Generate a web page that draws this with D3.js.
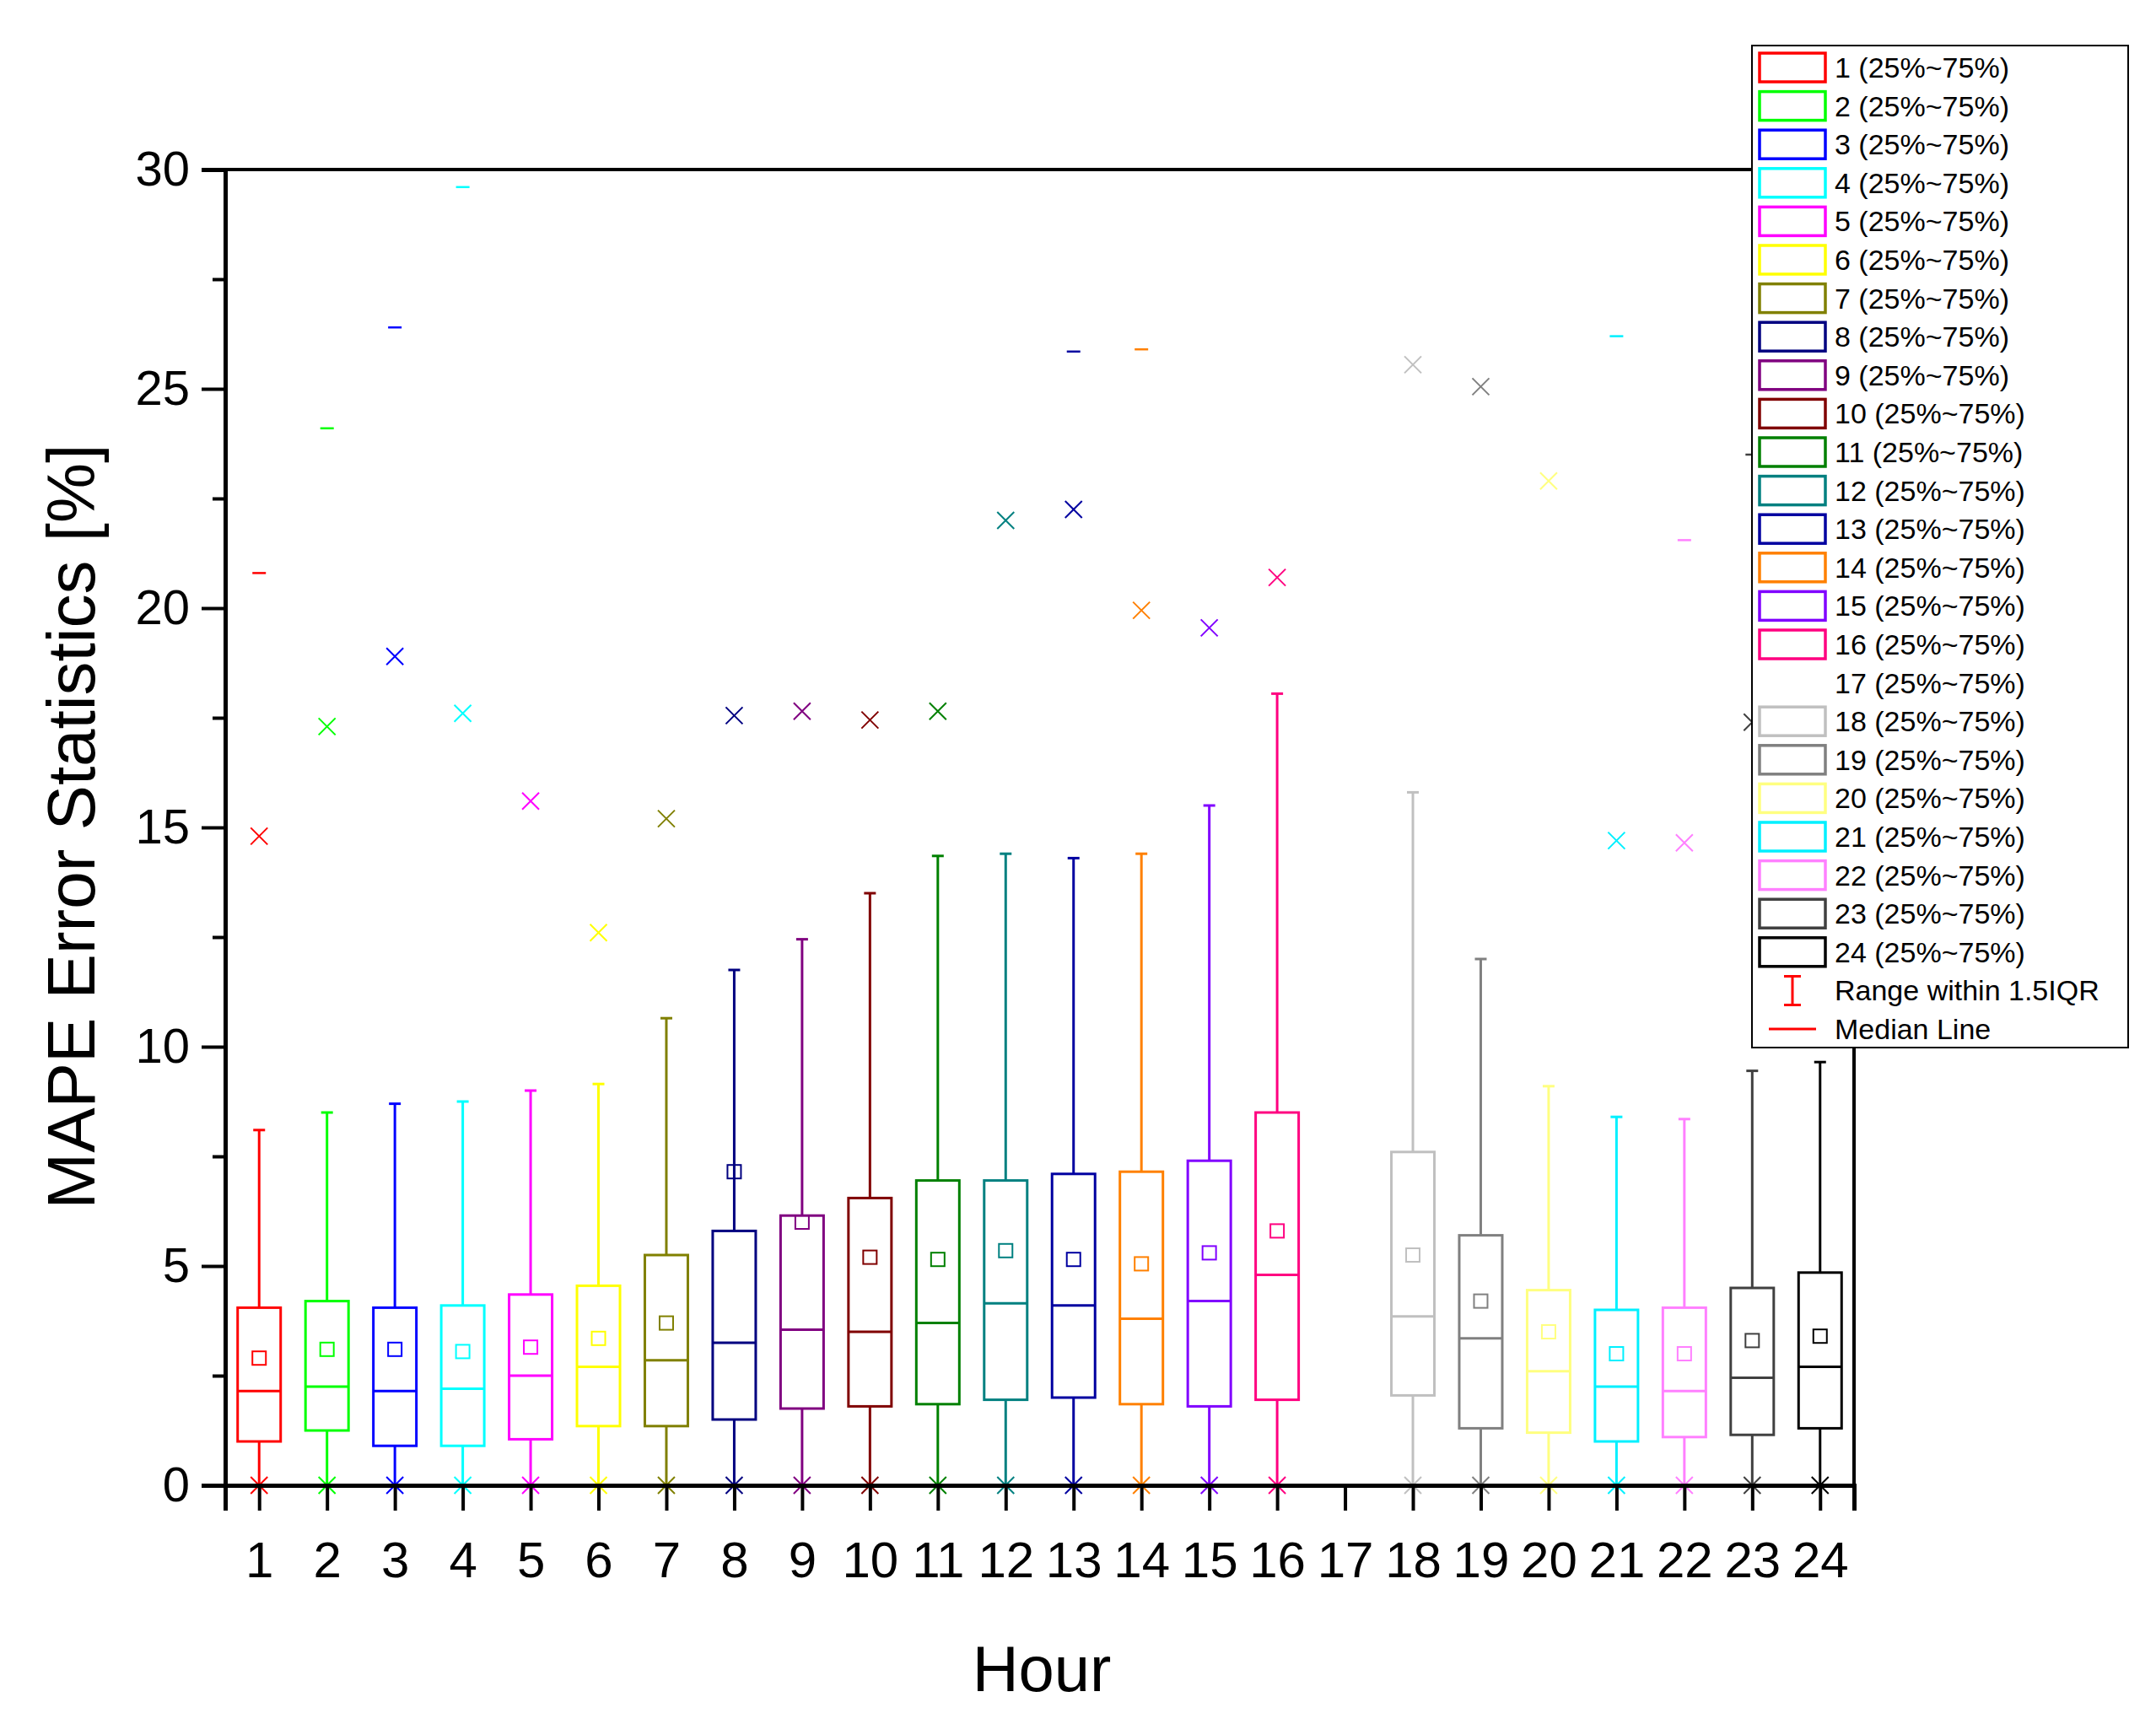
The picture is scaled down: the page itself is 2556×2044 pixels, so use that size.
<!DOCTYPE html>
<html><head><meta charset="utf-8">
<script src="https://cdn.jsdelivr.net/npm/d3@7"></script>
<style>body{margin:0;background:#fff}</style></head>
<body><svg id="c" width="2556" height="2044"></svg>
<script>
const hours=[1,2,3,4,5,6,7,8,9,10,11,12,13,14,15,16,17,18,19,20,21,22,23,24];
const colors=["#FF0000","#00FF00","#0000FF","#00FFFF","#FF00FF","#FFFF00","#808000","#000080","#800080","#800000","#008000","#008080","#0000A0","#FF8000","#8000FF","#FF0080","#FFFFFF","#C0C0C0","#808080","#FFFF80","#00F0FF","#FF80FF","#404040","#000000"];
const q1=[1.0,1.25,0.9,0.9,1.05,1.35,1.35,1.5,1.75,1.8,1.85,1.95,2.0,1.85,1.8,1.95,null,2.05,1.3,1.2,1.0,1.1,1.15,1.3];
const med=[2.15,2.25,2.15,2.2,2.5,2.7,2.85,3.25,3.55,3.5,3.7,4.15,4.1,3.8,4.2,4.8,null,3.85,3.35,2.6,2.25,2.15,2.45,2.7];
const q3=[4.05,4.2,4.05,4.1,4.35,4.55,5.25,5.8,6.15,6.55,6.95,6.95,7.1,7.15,7.4,8.5,null,7.6,5.7,4.45,4.0,4.05,4.5,4.85];
const mean=[2.9,3.1,3.1,3.05,3.15,3.35,3.7,7.15,6.0,5.2,5.15,5.35,5.15,5.05,5.3,5.8,null,5.25,4.2,3.5,3.0,3.0,3.3,3.4];
const whiskTop=[8.1,8.5,8.7,8.75,9.0,9.15,10.65,11.75,12.45,13.5,14.35,14.4,14.3,14.4,15.5,18.05,null,15.8,12.0,9.1,8.4,8.35,9.45,9.65];
const whiskBot=[0,0,0,0,0,0,0,0,0,0,0,0,0,0,0,0,null,0,0,0,0,0,0,0];
const p99=[14.8,17.3,18.9,17.6,15.6,12.6,15.2,17.55,17.65,17.45,17.65,22.0,22.25,19.95,19.55,20.7,null,25.55,25.05,22.9,14.7,14.65,17.4,17.5];
const p1=[0,0,0,0,0,0,0,0,0,0,0,0,0,0,0,0,null,0,0,0,0,0,0,0];
const maxV=[20.8,24.1,26.4,29.6,null,null,null,null,null,null,null,null,25.85,25.9,null,null,null,null,null,null,26.2,21.55,23.5,null];
const yTicks=[0,5,10,15,20,25,30];

const svg=d3.select("#c");
const L=267,R=2198,T=201,B=1761;
const x=d3.scaleLinear().domain([0.5,24.5]).range([L,R]);
const y=d3.scaleLinear().domain([0,30]).range([B,T]);
const bw=51, cap=14, ff="Arial, 'Liberation Sans', sans-serif";
const g=svg.append("g");
hours.forEach((h,i)=>{
  if(q1[i]==null) return;
  const c=colors[i], cx=x(h);
  const sw=3;
  g.append("line").attr("x1",cx).attr("x2",cx).attr("y1",y(q3[i])).attr("y2",y(whiskTop[i])).attr("stroke",c).attr("stroke-width",sw);
  g.append("line").attr("x1",cx).attr("x2",cx).attr("y1",y(q1[i])).attr("y2",y(whiskBot[i])).attr("stroke",c).attr("stroke-width",sw);
  g.append("line").attr("x1",cx-cap/2).attr("x2",cx+cap/2).attr("y1",y(whiskTop[i])).attr("y2",y(whiskTop[i])).attr("stroke",c).attr("stroke-width",sw);
  g.append("rect").attr("x",cx-bw/2).attr("y",y(q3[i])).attr("width",bw).attr("height",y(q1[i])-y(q3[i])).attr("fill","none").attr("stroke",c).attr("stroke-width",sw);
  g.append("line").attr("x1",cx-bw/2).attr("x2",cx+bw/2).attr("y1",y(med[i])).attr("y2",y(med[i])).attr("stroke",c).attr("stroke-width",sw);
  g.append("rect").attr("x",cx-8).attr("y",y(mean[i])-8).attr("width",16).attr("height",16).attr("fill","none").attr("stroke",c).attr("stroke-width",2);
  [p99[i],p1[i]].forEach(v=>{ if(v==null) return; const py=y(v),s=10;
    g.append("path").attr("d",`M${cx-s},${py-s}L${cx+s},${py+s}M${cx-s},${py+s}L${cx+s},${py-s}`).attr("stroke",c).attr("stroke-width",2).attr("fill","none");});
  if(maxV[i]!=null) g.append("line").attr("x1",cx-8).attr("x2",cx+8).attr("y1",y(maxV[i])).attr("y2",y(maxV[i])).attr("stroke",c).attr("stroke-width",2.5);
});
// frame
svg.append("rect").attr("x",L).attr("y",T).attr("width",R-L).attr("height",B-T).attr("fill","none").attr("stroke","#000").attr("stroke-width",4);
// y axis
const ya=svg.append("g").attr("transform",`translate(${L},0)`).call(d3.axisLeft(y).tickValues(yTicks).tickSize(28).tickPadding(14).tickFormat(d3.format("d")));
ya.select(".domain").attr("stroke-width",5);
ya.selectAll(".tick line").attr("stroke-width",4);
ya.selectAll("text").attr("font-family",ff).attr("font-size",58);
const yMinor=svg.append("g").attr("transform",`translate(${L},0)`).call(d3.axisLeft(y).tickValues([2.5,7.5,12.5,17.5,22.5,27.5]).tickSize(15).tickFormat(""));
yMinor.select(".domain").remove(); yMinor.selectAll("line").attr("stroke-width",4);
// x axis
const xa=svg.append("g").attr("transform",`translate(0,${B})`).call(d3.axisBottom(x).tickValues(hours).tickSize(30).tickPadding(36).tickFormat(d3.format("d")));
xa.select(".domain").attr("stroke-width",5);
xa.selectAll(".tick line").attr("stroke-width",4);
xa.selectAll("text").attr("font-family",ff).attr("font-size",60);
// labels
svg.append("text").attr("x",1235).attr("y",2005).attr("text-anchor","middle").attr("font-family",ff).attr("font-size",76).text("Hour");
svg.append("text").attr("transform","translate(112,980) rotate(-90)").attr("text-anchor","middle").attr("font-family",ff).attr("font-size",80).text("MAPE Error Statistics [%]");
// legend
const lg=svg.append("g");
const lx=2077, ly=54, lw=446, lh=1188, step=45.6;
lg.append("rect").attr("x",lx).attr("y",ly).attr("width",lw).attr("height",lh).attr("fill","#fff").attr("stroke","#000").attr("stroke-width",2);
hours.forEach((h,i)=>{
  const yy=ly+26+i*step;
  if(colors[i]!=="#FFFFFF") lg.append("rect").attr("x",lx+9).attr("y",yy-17).attr("width",78).attr("height",34).attr("fill","none").attr("stroke",colors[i]).attr("stroke-width",3.5);
  lg.append("text").attr("x",lx+98).attr("y",yy+12).attr("font-family",ff).attr("font-size",34).text(h+" (25%~75%)");
});
const ry=ly+26+24*step, my=ly+26+25*step;
lg.append("path").attr("d",`M${lx+48},${ry-17}V${ry+17}M${lx+38},${ry-17}H${lx+58}M${lx+38},${ry+17}H${lx+58}`).attr("stroke","#FF0000").attr("stroke-width",3).attr("fill","none");
lg.append("text").attr("x",lx+98).attr("y",ry+12).attr("font-family",ff).attr("font-size",34).text("Range within 1.5IQR");
lg.append("line").attr("x1",lx+20).attr("x2",lx+76).attr("y1",my).attr("y2",my).attr("stroke","#FF0000").attr("stroke-width",3);
lg.append("text").attr("x",lx+98).attr("y",my+12).attr("font-family",ff).attr("font-size",34).text("Median Line");
</script></body></html>
